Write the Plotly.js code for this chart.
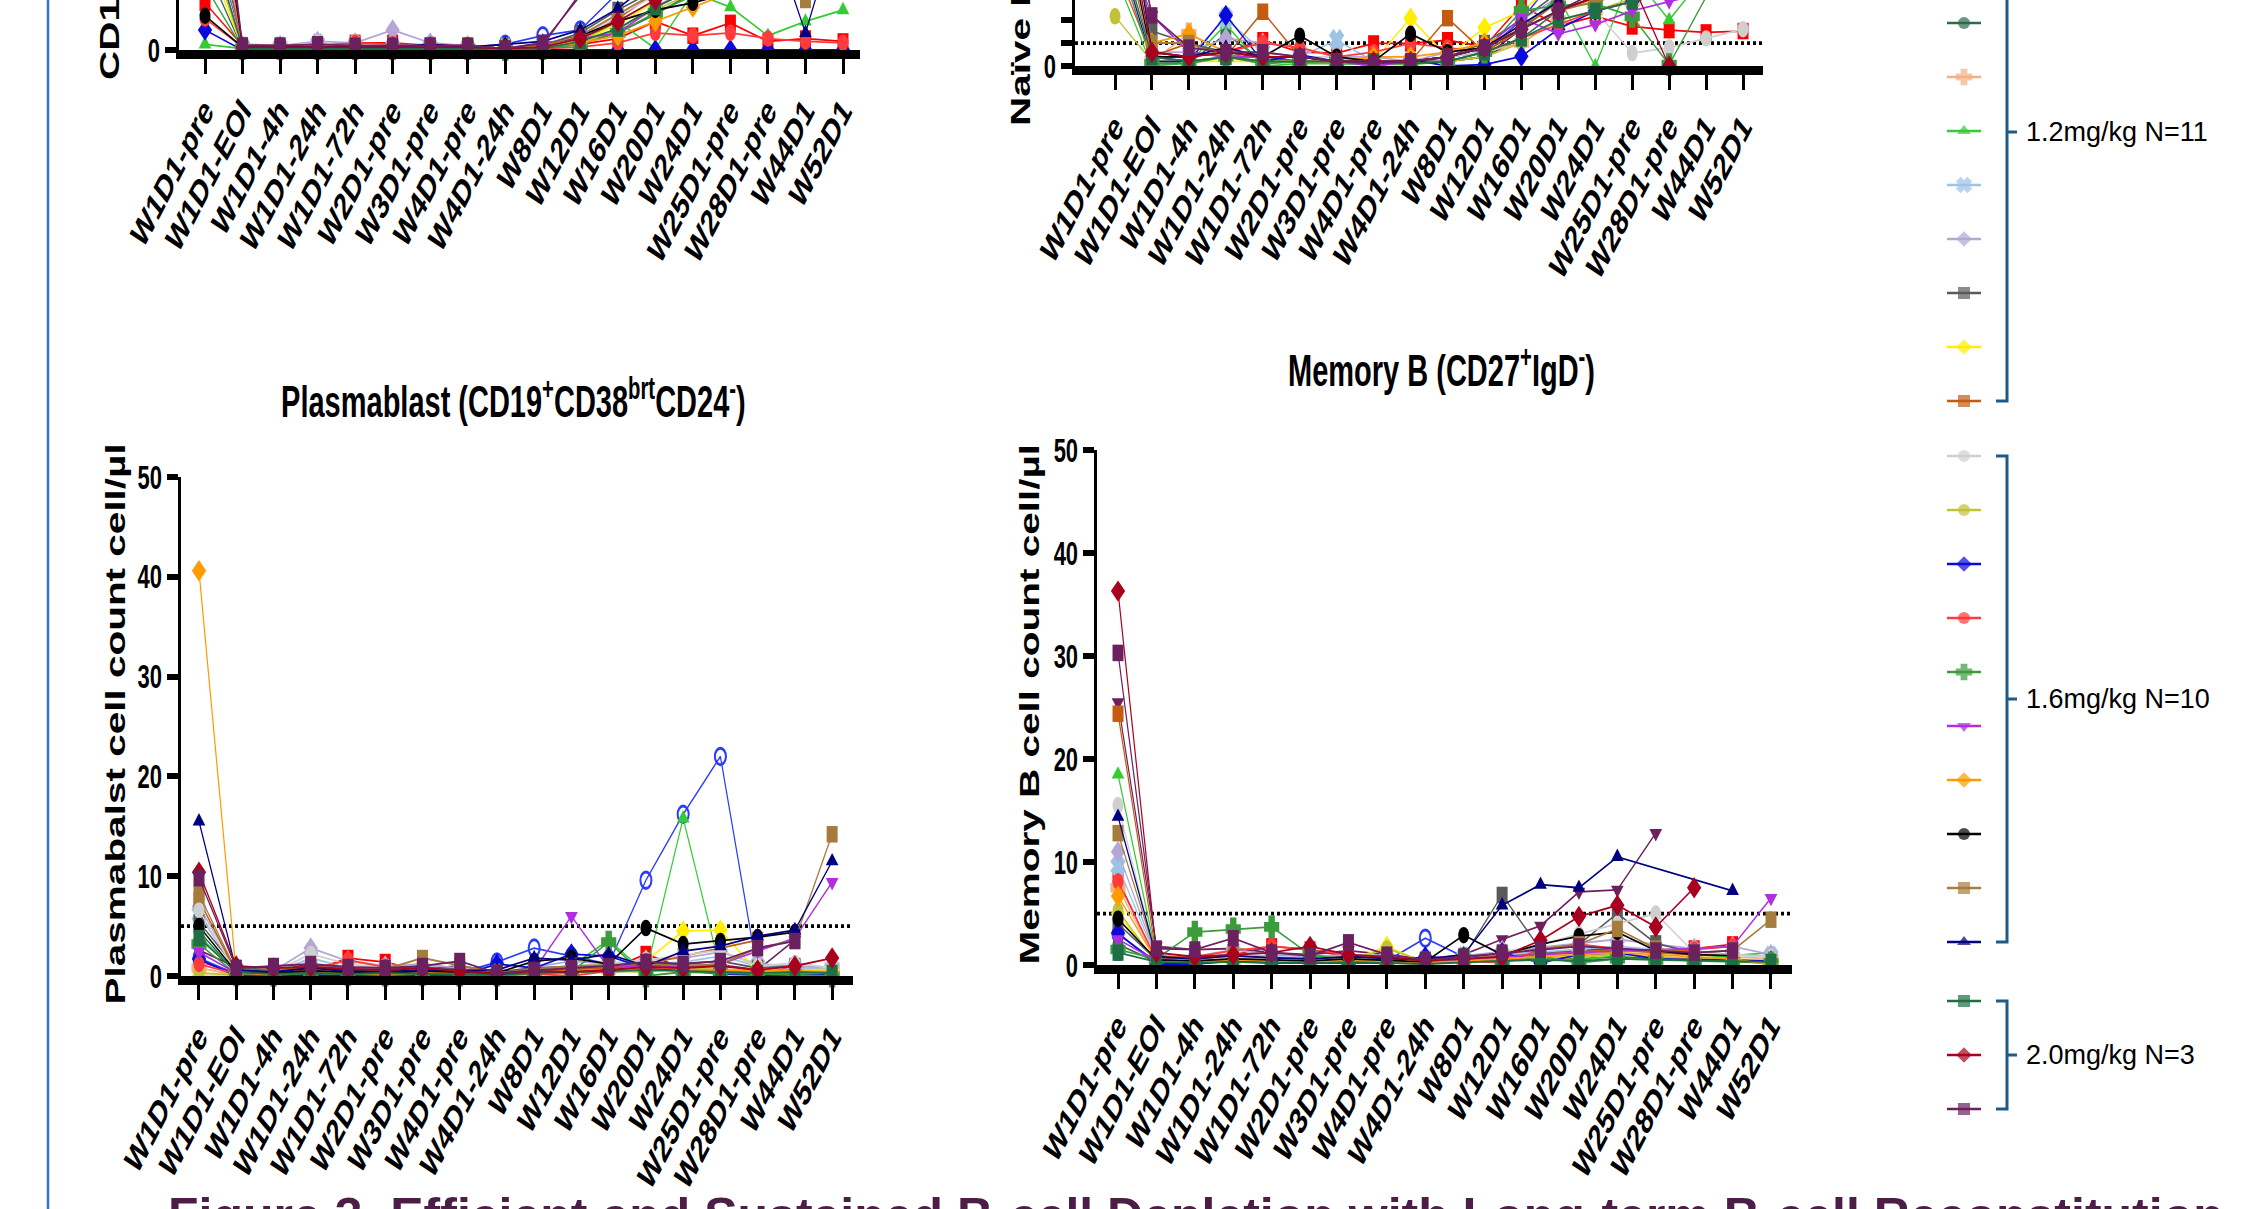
<!DOCTYPE html>
<html><head><meta charset="utf-8">
<script src="https://cdn.plot.ly/plotly-3.0.1.min.js"></script>
<style>
html,body{margin:0;padding:0;background:#fff;overflow:hidden;}
#wrap{position:relative;width:2248px;height:1209px;overflow:hidden;background:#fff;}
#panels{position:absolute;left:0;top:0;width:2248px;height:806px;transform:scaleY(1.5);transform-origin:0 0;}
#overlay{position:absolute;left:0;top:0;width:2248px;height:1209px;pointer-events:none;}
</style></head>
<body><div id="wrap"><div id="panels"></div><div id="overlay"></div></div>
<script>
// ---------------- DATA ----------------
const timepoints = ["W1D1-pre","W1D1-EOI","W1D1-4h","W1D1-24h","W1D1-72h","W2D1-pre","W3D1-pre","W4D1-pre","W4D1-24h","W8D1","W12D1","W16D1","W20D1","W24D1","W25D1-pre","W28D1-pre","W44D1","W52D1"];
const doseGroups = ["1.2mg/kg N=11","1.6mg/kg N=10","2.0mg/kg N=3"];
const subjectGroup = [0,0,0,0,0,0,0,0,0,0,0, 1,1,1,1,1,1,1,1,1,1, 2,2,2];
const subjectNames = ["S01","S02","S03","S04","S05","S06","S07","S08","S09","S10","S11","S12","S13","S14","S15","S16","S17","S18","S19","S20","S21","S22","S23","S24"];
const subjectColors = ["#ff0000","#2b3bff","#6e1f5c","#2e6b4e","#f4b183","#33cc33","#9dc3e6","#b4a7d6","#5a5a5a","#ffee00","#c55a11",
                       "#cfcfcf","#c2c23a","#0a0adc","#ff3b3b","#3c9c3c","#b02ee0","#ff9a00","#000000","#a67c3d","#000080",
                       "#1e6e46","#a8001e","#6b2060"];
const subjectSymbols = ["square","circle-open","triangle-down","circle","cross","triangle-up","x","diamond","square","diamond","square",
                        "circle","circle","diamond","circle","cross","triangle-down","diamond","circle","square","triangle-up",
                        "square","diamond","square"];
const thresholdCount = 5;

const cd19Counts = [
[33,3,2,3,5,5,3,2,0.5,2,4,8,20,10,19,6,8,6],
[120,2,1,2,1,1,1,2,4,10,14,40,90,120,150,60,null,null],
[150,4,3,4,3,2,3,3,1,3,40,60,80,100,120,140,null,null],
[60,1,1,2,1,1,1,1,0.5,2,5,12,25,40,50,45,50,60],
[90,1,1,1,1,1,1,1,0.5,1,4,15,30,45,50,60,70,80],
[4,1,0.5,1,0.5,1,0.5,1,0.5,2,6,20,1,40,30,10,20,28],
[110,2,2,4,3,2,2,1,1,3,8,20,35,50,60,55,70,null],
[140,3,3,6,5,14,5,3,1,4,10,25,40,55,70,65,80,90],
[100,3,2,3,2,2,3,2,1,3,12,28,45,60,70,65,80,null],
[70,1,1,1,1,1,1,3,1,2,6,18,35,50,60,55,65,70],
[130,2,1,2,2,1,2,1,1,3,8,22,40,60,70,80,null,null],
[95,2,2,5,3,3,2,2,1,3,9,24,38,50,55,60,65,70],
[80,1,1,1,1,1,1,1,0.5,2,5,15,28,40,45,50,55,60],
[14,0,0,0,0,0,0,0,0,0,0,0,0,0,0,0,0,0],
[22,2,2,3,5,4,3,2,0,1,2,5,12,10,12,8,6,5],
[45,1,1,1,1,1,1,1,0.5,1,4,12,26,40,50,60,70,80],
[85,3,3,4,3,3,4,3,1,5,8,12,30,45,55,60,70,80],
[160,2,2,2,2,2,2,2,1,2,5,10,20,30,40,50,60,70],
[24,2,2,2,2,2,2,2,1,3,10,20,28,33,40,45,null,null],
[200,3,3,3,3,3,3,3,1,3,10,25,40,50,55,60,35,80],
[180,2,2,2,2,2,4,2,4,6,14,29,50,70,80,90,12,100],
[90,1,1,1,1,1,1,1,0.5,1,6,15,30,45,55,60,70,80],
[210,2,2,2,2,2,2,2,1,2,8,20,35,48,60,70,null,null],
[230,3,3,4,3,3,3,3,1,5,38,45,55,65,75,80,null,null]
];

const naiveBCounts = [
[60,3,2,3,5.6,3,2.8,4.9,4.9,5.6,4.2,13.2,8.7,10.8,8.6,7.8,7.3,7.6],
[40,2,1,2,1,1,1,1,1,2,3,10,20,25,30,20,null,null],
[50,11,3,2,2,1,1,0,1,1,2,8,15,18,20,22,null,null],
[30,1,0.5,7,1,1,0.5,0.5,0.5,1,2,6,12,15,18,20,22,25],
[25,1,7,3,2,1,1,1,1,2,3,5,10,12,14,16,18,20],
[20,0,0.7,9,0,0.5,0.5,0.5,0.3,1,3,8,15,0,20,10,20,22],
[35,2,2,10.4,3,2,5.6,1,1,2,4,9,14,18,20,22,24,null],
[40,3,3,6,5,4,2,2,1,3,5,10,15,18,20,22,24,26],
[45,7.6,4.9,3,2,1,1,1,0.5,2,5,10,16,20,22,24,null,null],
[30,1,1,1,1,1,1,1,10.4,2,8.3,12,18,20,22,24,26,28],
[35,2,5,2,11.8,2,1,1,1,10.4,3,8,14,18,20,22,null,null],
[38,2,2,3,2,2,2,1,1,2,3,6,10,12,2.8,4,6,8],
[10.8,1,1,2,1,1,1,0.5,0.5,1,2,5,10,12,15,18,20,22],
[28,1,1,11,1,2.4,1,0.3,1.4,0,0.3,2.1,8,12,14,16,18,20],
[22,2,2,3,5,4,2,3,4.9,4,3,6,9,12,14,null,null,null],
[26,0.5,0.5,2,0.5,1,1,0.5,0.5,1,3,12,13.2,13.5,10.8,0.3,15,18],
[32,11,3,2,2,2,1,0,1,2,4,10.4,7,9,12,14,16,18],
[36,5,7,3,2,2,1,2,2,3,5,8,12,15,18,20,22,24],
[40,2,2,3,2,6.6,2,1,7,3,4,8,12,15,18,20,22,24],
[48,5,5,2,3,2,1,1,1,2,4,8,12,14,16,18,20,22],
[55,3,2,4,2,2,1,1,1,2,4,9,14,18,20,22,24,26],
[30,2,1,2,1,1,1,1,0.5,1,3,6,10,12,14,16,18,20],
[45,3,2,3,2,2,1,1,1,2,4,8,12,15,18,0,null,null],
[50,11,4,3,3,2,1,0.5,1,2,4,8,12,16,20,22,null,null]
];

const plasmablastCounts = [
[1.5,0.3,0.2,0.5,1.8,1.4,0.5,0.3,0.1,0.5,0.4,0.6,2.2,0.8,0.4,0.2,0.9,0.3],
[1.8,0.2,0.1,0.3,0.2,0.1,0.2,0.3,1.4,2.8,2.0,1.2,9.6,16.2,22.0,0.3,null,null],
[2.6,0.9,0.5,1.2,0.6,0.5,0.7,1.0,0.4,0.6,0.8,0.9,1.2,1.0,1.1,0.6,3.6,null],
[4.5,0.3,0.2,0.2,0.3,0.2,0.3,0.2,0.1,0.3,0.5,0.4,0.6,0.8,0.5,0.3,0.4,0.5],
[0.8,0.1,0.1,0.2,0.1,0.2,0.1,0.1,0.2,0.3,0.4,0.6,1.2,0.9,0.7,0.5,0.6,0.9],
[4.0,0.4,0.2,0.3,0.2,0.3,0.2,0.3,0.2,0.5,1.0,3.6,0.3,15.8,0.6,0.2,0.3,0.0],
[6.2,0.5,0.3,1.8,0.8,0.6,0.4,0.3,0.2,0.6,0.9,1.0,1.2,1.4,2.0,1.0,0.8,0.6],
[7.0,0.6,0.5,2.8,1.5,1.0,1.2,0.8,0.3,0.9,1.5,1.2,1.6,1.8,2.4,1.2,1.0,0.8],
[5.4,0.8,0.6,0.8,0.7,0.5,0.9,0.6,0.4,0.8,1.0,1.1,1.0,1.2,1.5,0.8,1.0,null],
[0.0,0.1,0.1,0.2,0.1,0.1,0.1,0.2,0.1,0.2,0.6,0.8,1.5,4.5,4.6,0.4,0.5,0.6],
[7.6,0.4,0.3,0.4,0.3,0.2,0.4,0.3,0.2,0.5,0.6,0.8,1.2,2.0,2.8,3.6,null,null],
[6.6,0.3,0.4,2.2,1.2,0.8,0.6,0.5,0.3,0.6,1.0,1.3,1.6,2.1,2.6,1.0,1.3,0.8],
[0.3,0.1,0.2,0.1,0.1,0.2,0.1,0.1,0.1,0.3,0.3,0.5,0.4,0.8,0.6,0.4,0.3,0.5],
[1.7,0.0,0.0,0.1,0.0,0.1,0.0,0.0,1.2,0.8,2.2,2.0,0.8,0.6,0.2,0.1,0.0,0.2],
[1.2,0.2,0.3,0.6,1.6,0.9,0.4,0.2,0.0,0.2,0.0,0.5,1.5,0.6,0.5,0.2,0.3,0.4],
[3.2,0.2,0.1,0.3,0.2,0.1,0.2,0.1,0.1,0.3,0.4,3.4,0.0,0.4,0.3,0.2,0.2,0.0],
[2.4,0.3,0.2,0.5,0.4,0.3,0.3,0.4,0.2,0.6,6.0,0.8,1.0,0.9,1.2,2.5,3.8,9.4],
[40.6,0.3,0.2,0.4,0.3,0.2,0.3,0.4,0.2,0.4,0.5,0.6,0.9,0.7,0.5,0.6,0.5,0.4],
[5.0,0.4,0.3,0.5,0.4,0.3,0.5,0.4,0.3,1.5,1.8,1.2,4.8,3.2,3.5,3.9,4.4,null],
[8.2,0.5,0.6,1.0,0.8,0.7,1.8,1.0,0.3,0.7,1.0,1.1,1.3,1.0,1.2,2.8,3.6,14.2],
[15.5,0.6,0.4,0.8,0.5,0.4,0.6,0.5,0.6,1.8,1.6,2.2,1.0,2.5,3.0,4.0,4.6,11.5],
[3.8,0.4,0.2,0.3,0.2,0.3,0.2,0.2,0.1,0.3,0.4,0.5,0.6,0.5,0.4,0.3,0.4,0.3],
[10.4,1.0,0.8,0.9,0.7,0.6,0.8,0.5,0.2,0.5,0.4,0.6,0.9,0.8,1.0,0.6,1.0,1.8],
[9.8,0.8,1.0,1.2,0.9,0.8,1.0,1.5,0.3,0.6,0.8,1.0,1.4,1.2,1.5,2.8,3.5,null]
];

const memoryBCounts = [
[8.3,0.4,0.6,1.0,1.8,1.5,0.8,0.5,0.2,0.4,0.3,1.5,2.0,1.5,1.4,1.6,2.0,null],
[3.0,0.3,0.2,0.4,0.3,0.3,0.2,0.4,2.6,0.8,1.0,1.2,1.5,1.6,1.4,1.2,null,null],
[25.5,1.8,1.5,1.6,1.2,1.0,1.4,1.0,0.6,1.0,2.5,3.8,7.1,7.3,12.8,null,null,null],
[2.0,0.3,0.2,0.3,0.2,0.2,0.3,0.2,0.1,0.4,0.5,0.7,0.6,0.8,0.6,0.5,0.4,0.3],
[7.5,0.4,0.3,0.5,0.4,0.3,0.4,0.3,0.2,0.4,0.6,0.9,1.1,1.4,1.2,1.0,0.8,0.6],
[18.5,0.8,0.6,0.5,0.6,0.4,0.5,0.4,0.3,0.6,0.5,0.8,0.4,1.0,0.8,0.6,0.9,1.2],
[9.6,0.6,0.5,1.2,0.8,0.6,0.5,0.6,0.4,0.7,1.0,1.2,1.5,1.8,1.5,1.2,1.0,0.8],
[11.0,0.7,0.8,1.5,1.0,0.8,1.0,0.9,0.5,0.9,1.4,1.8,2.2,2.5,2.0,1.6,1.8,1.0],
[4.0,0.5,0.4,0.6,0.5,0.4,0.6,0.5,0.3,0.8,6.8,1.5,2.0,5.0,2.1,1.2,1.0,null],
[5.0,0.3,0.3,0.4,0.3,0.3,0.4,1.8,0.2,0.3,0.4,0.6,0.8,1.0,0.8,0.6,0.5,0.4],
[24.4,0.9,0.7,0.8,0.6,0.5,0.7,0.6,0.4,0.6,0.8,1.0,1.3,1.5,1.2,1.0,null,null],
[15.5,0.6,0.5,0.8,0.6,0.5,0.6,0.7,0.4,0.8,1.2,2.0,3.0,4.0,5.0,1.2,1.0,0.8],
[5.3,0.2,0.3,0.4,0.3,0.5,0.4,1.6,0.3,0.4,0.5,0.6,0.8,1.0,0.8,0.6,0.7,0.0],
[3.1,0.1,0.1,0.4,0.2,0.2,0.1,0.2,0.8,0.6,1.2,0.2,1.0,1.2,0.6,0.5,0.5,0.4],
[8.1,0.5,0.8,1.4,1.8,1.5,1.0,0.6,0.3,0.4,0.2,1.5,2.0,1.6,1.3,1.5,1.8,null],
[1.5,0.6,3.2,3.5,3.7,1.0,0.5,0.4,0.2,0.6,0.3,0.8,0.2,0.6,0.5,0.4,0.3,0.2],
[2.5,0.4,0.3,0.5,0.4,0.3,0.4,0.3,0.2,0.5,0.8,1.0,1.2,1.4,1.5,1.6,1.8,6.5],
[6.7,0.4,0.3,0.5,0.4,0.3,0.5,0.4,0.2,0.4,0.6,0.8,1.0,1.2,1.0,0.8,0.6,0.0],
[4.5,0.5,0.4,0.6,0.5,0.4,0.6,0.5,0.3,2.9,1.0,2.0,2.8,3.2,1.4,1.0,0.9,null],
[12.8,0.8,0.6,0.9,0.7,0.6,0.8,0.7,0.4,0.6,1.0,1.6,2.0,3.5,1.6,1.2,1.4,4.4],
[14.4,0.8,0.6,0.9,0.7,0.6,0.8,0.6,0.5,1.0,5.8,7.8,7.5,10.5,null,null,7.2,null],
[1.2,0.3,0.2,0.3,0.2,0.2,0.3,0.2,0.1,0.3,0.4,0.5,0.4,0.6,0.5,0.4,0.3,0.3],
[36.3,1.2,0.8,1.0,1.2,1.8,1.0,0.8,0.4,0.6,0.8,2.4,4.7,5.8,3.7,7.5,null,null],
[30.3,1.6,1.5,2.6,1.2,0.9,2.2,1.0,0.5,0.8,1.2,1.5,1.8,1.6,1.4,1.2,1.4,null]
];

const panelTitles = ["", "", "Plasmablast (CD19<sup>+</sup>CD38<sup>brt</sup>CD24<sup>-</sup>)", "Memory B (CD27<sup>+</sup>IgD<sup>-</sup>)"];
const yAxisTitles = ["CD19<sup>+</sup> B cell count cell/µl", "Naïve B cell count cell/µl", "Plasmabalst cell count cell/µl", "Memory B cell count cell/µl"];
const figureCaption = "Figure 3. Efficient and Sustained B-cell Depletion with Long-term B-cell Reconstitution";

// ---------------- LAYOUT (page pixels) ----------------
const FW = 2248, FH = 1209;
const fx = p => p / FW;
const fy = p => 1 - p / FH;
const FONT = "Liberation Sans, Arial, Helvetica, sans-serif";

const panels = [
  {values: cd19Counts,        xd:[179,860],  yd:[50,0],    xr:[-0.693,17.453], yr:[0,35],    tv:[0],          tt:["0"],  thr:false},
  {values: naiveBCounts,      xd:[1075,1763],yd:[66,0],    xr:[-1.083,17.54],  yr:[0,14.35], tv:[0,5,10],     tt:["0"," "," "], thr:true},
  {values: plasmablastCounts, xd:[181,853],  yd:[976,477], xr:[-0.483,17.56],  yr:[0,50],    tv:[0,10,20,30,40,50], tt:["0","10","20","30","40","50"], thr:true},
  {values: memoryBCounts,     xd:[1097,1792],yd:[965,450], xr:[-0.547,17.547], yr:[0,50],    tv:[0,10,20,30,40,50], tt:["0","10","20","30","40","50"], thr:true}
];

const lineMarkerWidth = sym => (sym.includes("open") || sym === "x" || sym === "cross") ? 2 : 0;

const traces = [];
const layoutA = {
  width: FW, height: 806, margin:{l:0,r:0,t:0,b:0},
  paper_bgcolor:"#ffffff", plot_bgcolor:"#ffffff",
  showlegend:false, shapes:[], annotations:[], font:{family:FONT, color:"#000"}
};

panels.forEach((p, k) => {
  const n = k + 1;
  const xa = n === 1 ? "x" : "x" + n;
  const ya = n === 1 ? "y" : "y" + n;
  p.values.forEach((row, s) => {
    traces.push({
      type:"scatter", mode:"lines+markers", x: timepoints, y: row,
      xaxis: xa, yaxis: ya, connectgaps: true, cliponaxis: false,
      name: subjectNames[s],
      line:{color: subjectColors[s], width: 1.2},
      marker:{color: subjectColors[s], symbol: subjectSymbols[s], size: 11,
              line:{color: subjectColors[s], width: lineMarkerWidth(subjectSymbols[s])}},
      hoverinfo:"skip"
    });
  });
  layoutA["xaxis" + (n === 1 ? "" : n)] = {
    type:"category", categoryorder:"array", categoryarray: timepoints,
    domain:[fx(p.xd[0]), fx(p.xd[1])], range: p.xr, anchor: ya,
    showline:true, linecolor:"#000", linewidth:6, mirror:false,
    ticks:"outside", ticklen:10, tickwidth:3, tickcolor:"#000",
    tickangle:-52, tickfont:{family:FONT, size:25, color:"#000", weight:"bold"},
    showgrid:false, zeroline:false, fixedrange:true
  };
  layoutA["yaxis" + (n === 1 ? "" : n)] = {
    domain:[fy(p.yd[0]), fy(p.yd[1])], range: p.yr, anchor: xa,
    showline:true, linecolor:"#000", linewidth:3.5,
    ticks:"outside", ticklen:11, tickwidth:4, tickcolor:"#000",
    tickmode:"array", tickvals:p.tv, ticktext:p.tt,
    tickfont:{family:FONT, size:22, color:"#000", weight:"bold"},
    showgrid:false, zeroline:false, fixedrange:true
  };
  if (p.thr) {
    layoutA.shapes.push({type:"line", xref: xa + " domain", yref: ya, x0:0, x1:1, y0:thresholdCount, y1:thresholdCount,
      line:{color:"#000", width:2.5, dash:"dot"}, layer:"below"});
  }
});

// y-axis titles
const yTitlePos = [
  {x:108, y:83, anchor:"bottom"},
  {x:1021, y:129, anchor:"bottom"},
  {x:116, y:724, anchor:"middle"},
  {x:1030, y:705, anchor:"middle"}
];
yAxisTitles.forEach((t, k) => {
  layoutA.annotations.push({text:t, xref:"paper", yref:"paper", x:fx(yTitlePos[k].x), y:fy(yTitlePos[k].y),
    xanchor:"center", yanchor:yTitlePos[k].anchor, textangle:-90, showarrow:false,
    font:{family:FONT, size:27, color:"#000", weight:"bold"}});
});
// panel titles
const titlePos = [null, null, {x:513, y:399}, {x:1441, y:367}];
panelTitles.forEach((t, k) => {
  if (!t) return;
  layoutA.annotations.push({text:t, xref:"paper", yref:"paper", x:fx(titlePos[k].x), y:fy(titlePos[k].y),
    xanchor:"center", yanchor:"middle", showarrow:false,
    font:{family:FONT, size:29, color:"#000", weight:"bold"}});
});

Plotly.newPlot("panels", traces, layoutA, {staticPlot:true, displayModeBar:false});

// ---------------- OVERLAY: legend, brackets, caption ----------------
const groupStartY = [23 - 54*3, 456, 1001];
const groupFirst = [0, 11, 21];
const rowGap = 54;
const legendY = subjectNames.map((_, i) => groupStartY[subjectGroup[i]] + rowGap * (i - groupFirst[subjectGroup[i]]));
const legendX = [1947, 1964, 1981];

const legendTraces = subjectNames.map((nm, i) => ({
  type:"scatter", mode:"lines+markers", x: legendX, y:[legendY[i], legendY[i], legendY[i]],
  line:{color: subjectColors[i], width:2.5},
  marker:{color: subjectColors[i], symbol: subjectSymbols[i], size:[0,12,0],
          line:{color: subjectColors[i], width: lineMarkerWidth(subjectSymbols[i])}},
  hoverinfo:"skip", cliponaxis:false
}));

const bracketColor = "#1f5b85";
const shapesB = [{type:"line", xref:"x", yref:"y", x0:48, x1:48, y0:0, y1:FH, line:{color:"#2e72d2", width:2.5}}];
const annB = [];
doseGroups.forEach((g, gi) => {
  const members = subjectNames.map((_, i) => i).filter(i => subjectGroup[i] === gi);
  const top = gi === 0 ? -40 : legendY[members[0]];
  const bot = legendY[members[members.length - 1]];
  const mid = gi === 0 ? 132 : (legendY[members[0]] + bot) / 2;
  shapesB.push({type:"path", xref:"x", yref:"y",
    path:`M 1996 ${top} L 2007 ${top} L 2007 ${bot} L 1996 ${bot}`, line:{color:bracketColor, width:3}});
  shapesB.push({type:"line", xref:"x", yref:"y", x0:2007, x1:2017, y0:mid, y1:mid, line:{color:bracketColor, width:3}});
  annB.push({text:g, xref:"x", yref:"y", x:2024, y:mid, xanchor:"left", yanchor:"middle", showarrow:false,
    font:{family:FONT, size:27, color:"#000"}});
});
annB.push({text:"<b>" + figureCaption + "</b>", xref:"x", yref:"y", x:166, y:1186, xanchor:"left", yanchor:"top",
  showarrow:false, font:{family:FONT, size:50, color:"#4b1d47"}});

const layoutB = {
  width: FW, height: FH, margin:{l:0,r:0,t:0,b:0},
  paper_bgcolor:"rgba(0,0,0,0)", plot_bgcolor:"rgba(0,0,0,0)", showlegend:false,
  xaxis:{range:[0,FW], visible:false, fixedrange:true},
  yaxis:{range:[FH,0], visible:false, fixedrange:true},
  shapes: shapesB, annotations: annB
};
Plotly.newPlot("overlay", legendTraces, layoutB, {staticPlot:true, displayModeBar:false});
</script>
</body></html>
